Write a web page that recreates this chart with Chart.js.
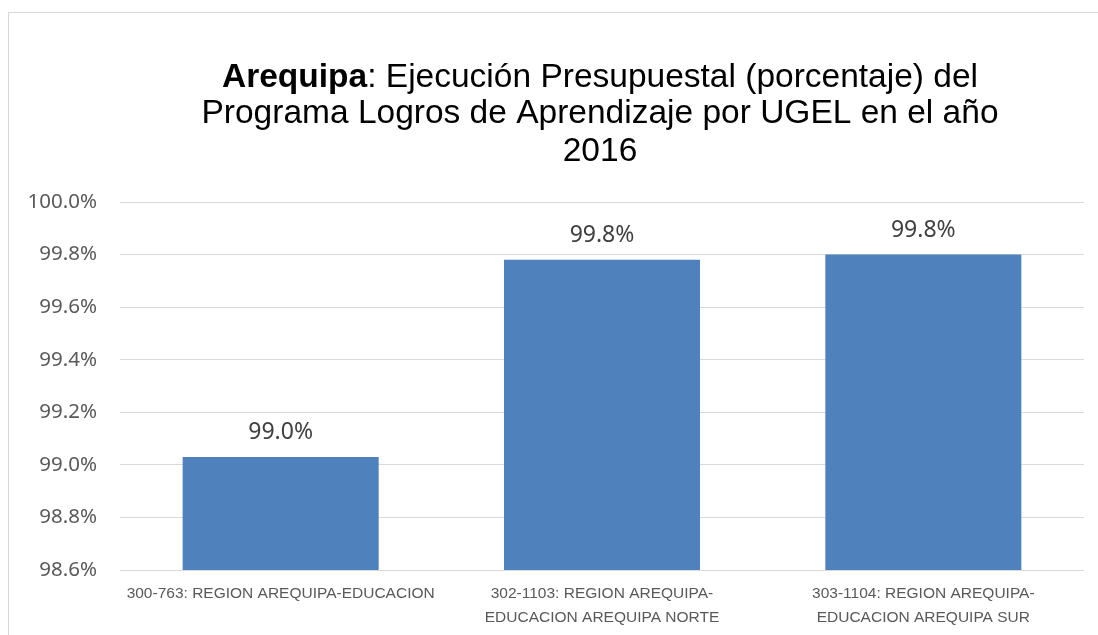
<!DOCTYPE html>
<html>
<head>
<meta charset="utf-8">
<script src="https://cdn.jsdelivr.net/npm/chart.js@4.4.1/dist/chart.umd.min.js"></script>
<style>
  html, body { margin: 0; padding: 0; background: #fff; overflow: hidden; }
  #marco { position: absolute; left: 8px; top: 12px; width: 1200px; height: 700px; border: 1px solid #d9d9d9; }
  #caja { position: absolute; left: 0; top: 0; width: 1098px; height: 635px; }
</style>
</head>
<body>
<div id="marco"></div>
<div id="caja"><canvas id="graficoUgel"></canvas></div>
<script>
// Datos del gráfico
var categorias = [
    ['300-763: REGION AREQUIPA-EDUCACION'],
    ['302-1103: REGION AREQUIPA-', 'EDUCACION AREQUIPA NORTE'],
    ['303-1104: REGION AREQUIPA-', 'EDUCACION AREQUIPA SUR']
];
var ejecucion = [99.03, 99.78, 99.80]; // porcentaje de ejecución
var etiquetasValor = ['99.0%', '99.8%', '99.8%'];
var ticksY = [98.6, 98.8, 99.0, 99.2, 99.4, 99.6, 99.8, 100.0];

var fuenteTexto = '"Liberation Sans", Arial, sans-serif';
var fuenteNumeros = '"Noto Sans", "Open Sans", sans-serif';

// Título con "Arequipa" en negrita
var pluginTitulo = {
    id: 'tituloMixto',
    afterDraw: function (chart) {
        var ctx = chart.ctx;
        var cx = (chart.chartArea.left + chart.chartArea.right) / 2 - 2;
        ctx.save();
        ctx.fillStyle = '#000';
        ctx.textBaseline = 'middle';
        var tam = 33.5;
        var negrita = 'bold ' + tam + 'px ' + fuenteTexto;
        var normal = tam + 'px ' + fuenteTexto;
        var a = 'Arequipa', b = ': Ejecución Presupuestal (porcentaje) del';
        ctx.font = negrita; var wa = ctx.measureText(a).width;
        ctx.font = normal; var wb = ctx.measureText(b).width;
        var x0 = cx - (wa + wb) / 2;
        ctx.textAlign = 'left';
        ctx.font = negrita; ctx.fillText(a, x0, 78);
        ctx.font = normal; ctx.fillText(b, x0 + wa, 78);
        ctx.textAlign = 'center';
        ctx.fillText('Programa Logros de Aprendizaje por UGEL en el año', cx, 114);
        ctx.fillText('2016', cx, 152);
        ctx.restore();
    }
};

// Etiquetas de valor encima de cada barra
var pluginValores = {
    id: 'valores',
    afterDatasetsDraw: function (chart) {
        var ctx = chart.ctx;
        var barras = chart.getDatasetMeta(0).data;
        ctx.save();
        ctx.font = '23px ' + fuenteNumeros;
        ctx.fillStyle = '#404040';
        ctx.textAlign = 'center';
        ctx.textBaseline = 'middle';
        barras.forEach(function (barra, i) {
            ctx.fillText(etiquetasValor[i], barra.x, barra.y - 24.5);
        });
        ctx.restore();
    }
};

var ctx = document.getElementById('graficoUgel').getContext('2d');
var graficoUgel = new Chart(ctx, {
    type: 'bar',
    data: {
        labels: categorias,
        datasets: [{
            data: ejecucion,
            backgroundColor: '#4F81BD',
            barPercentage: 0.61,
            categoryPercentage: 1
        }]
    },
    options: {
        responsive: true,
        maintainAspectRatio: false,
        animation: false,
        layout: { padding: { left: 0, right: 14, top: 202, bottom: 0 } },
        plugins: {
            legend: { display: false },
            tooltip: { enabled: false }
        },
        scales: {
            x: {
                grid: { display: false },
                border: { display: false },
                ticks: {
                    color: '#595959',
                    font: { family: fuenteTexto, size: 15.5, lineHeight: 1.55 },
                    padding: 4,
                    maxRotation: 0,
                    autoSkip: false
                },
                afterFit: function (escala) { escala.height = 65; }
            },
            y: {
                min: 98.6,
                max: 100.0,
                afterBuildTicks: function (escala) {
                    escala.ticks = ticksY.map(function (v) { return { value: v }; });
                },
                grid: { color: '#d9d9d9', drawTicks: false },
                border: { display: false },
                ticks: {
                    color: '#595959',
                    font: { family: fuenteNumeros, size: 20.5 },
                    padding: 23,
                    callback: function (v) { return v.toFixed(1) + '%'; }
                },
                afterFit: function (escala) { escala.width = 120; }
            }
        }
    },
    plugins: [pluginTitulo, pluginValores]
});
</script>
</body>
</html>
